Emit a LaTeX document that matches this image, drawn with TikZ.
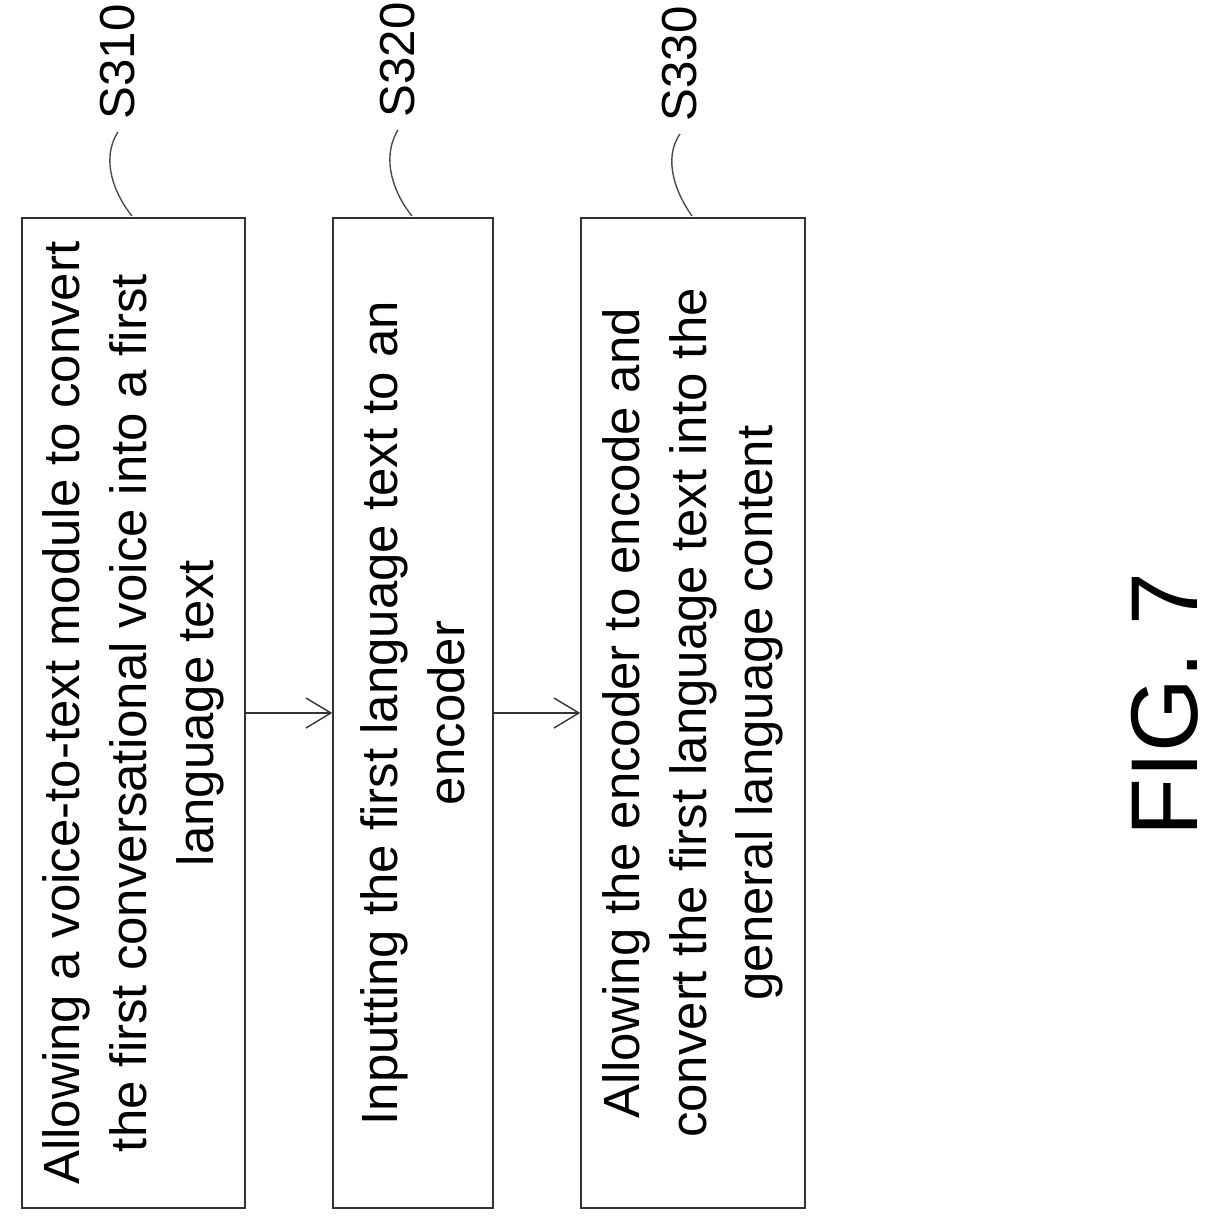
\documentclass[tikz,border=0pt]{standalone}
\usepackage{fontspec}
\setmainfont{Liberation Sans}
\usetikzlibrary{positioning}
\usetikzlibrary{arrows.meta}
\begin{document}
\begin{tikzpicture}[->, >={Straight Barb[length=2.5mm,width=3mm]}, draw=black!80, font=\fontsize{14.5}{19}\selectfont]
    \tikzstyle{stepbox}=[draw=black!80, rectangle, rotate=90, minimum width=9.9cm, align=center, inner sep=0pt]
    \tikzstyle{tag}=[rotate=90, font=\fontsize{14}{14}\selectfont]
    \tikzstyle{leader}=[-, draw=black!70, thin]

    \useasboundingbox (0,0) rectangle (12.3,-12.32);

	\node[stepbox, minimum height=2.23cm] (S310) at (1.335,-7.13) {Allowing a voice-to-text module to convert\\ the first conversational voice into a first\\ language text};
	\node[stepbox, minimum height=1.6cm] (S320) at (4.13,-7.13) {Inputting the first language text to an\\ encoder};
	\node[stepbox, minimum height=2.24cm] (S330) at (6.93,-7.13) {Allowing the encoder to encode and\\ convert the first language text into the\\ general language content};

    \path (S310.south) edge (S320.north);
    \path (S320.south) edge (S330.north);

    \node[tag] (t310) at (1.18,-0.62) {S310};
    \node[tag] (t320) at (3.98,-0.6) {S320};
    \node[tag] (t330) at (6.8,-0.64) {S330};
    \draw[leader] (t310.west) .. controls (1.0,-1.6) and (1.15,-1.95) .. (1.32,-2.16);
    \draw[leader] (t320.west) .. controls (3.8,-1.6) and (3.95,-1.95) .. (4.12,-2.16);
    \draw[leader] (t330.west) .. controls (6.62,-1.6) and (6.77,-1.95) .. (6.92,-2.16);

    \node[rotate=90, font=\fontsize{27}{27}\selectfont] (fig) at (11.65,-7.05) {FIG. 7};
\end{tikzpicture}
\end{document}
